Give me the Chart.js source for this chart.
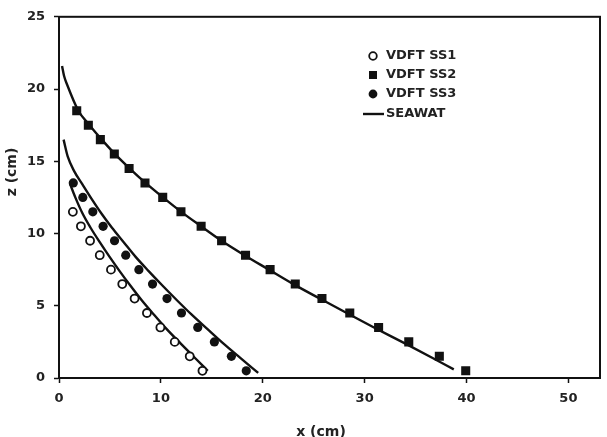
<!DOCTYPE html>
<html>
<head>
<meta charset="utf-8">
<script src="https://cdn.jsdelivr.net/npm/chart.js@4/dist/chart.umd.min.js"></script>
<style>
  html, body { margin: 0; padding: 0; background: #fff; }
  #wrap { width: 607px; height: 437px; }
</style>
</head>
<body>
<div id="wrap"><canvas id="chart" width="607" height="437"></canvas></div>
<script>
// tick labels
const xTicks = [0, 10, 20, 30, 40, 50];
const zTicks = [0, 5, 10, 15, 20, 25];

// VDFT SS1 (open circles)
const ss1X = [1.36, 2.15, 3.05, 4.0, 5.1, 6.21, 7.42, 8.63, 9.95, 11.36, 12.83, 14.08];
const ss1Z = [11.5, 10.5, 9.5, 8.5, 7.5, 6.5, 5.5, 4.5, 3.5, 2.5, 1.5, 0.5];

// VDFT SS2 (squares)
const ss2X = [1.74, 2.88, 4.06, 5.43, 6.88, 8.44, 10.18, 11.97, 13.95, 15.96, 18.31, 20.72, 23.19, 25.81, 28.54, 31.37, 34.33, 37.33, 39.92];
const ss2Z = [18.5, 17.5, 16.5, 15.5, 14.5, 13.5, 12.5, 11.5, 10.5, 9.5, 8.5, 7.5, 6.5, 5.5, 4.5, 3.5, 2.5, 1.5, 0.5];

// VDFT SS3 (filled circles)
const ss3X = [1.4, 2.34, 3.32, 4.33, 5.45, 6.55, 7.84, 9.18, 10.6, 12.02, 13.62, 15.25, 16.92, 18.38];
const ss3Z = [13.5, 12.5, 11.5, 10.5, 9.5, 8.5, 7.5, 6.5, 5.5, 4.5, 3.5, 2.5, 1.5, 0.5];

// SEAWAT curves
const seawat2X = [0.3, 0.5, 0.8, 1.9, 3.0, 4.2, 5.5, 6.95, 8.5, 10.2, 12.0, 13.95, 15.95, 18.2, 20.6, 23.0, 25.6, 28.3, 31.1, 34.0, 36.9, 38.75];
const seawat2Z = [21.6, 20.9, 20.3, 18.5, 17.5, 16.5, 15.5, 14.5, 13.5, 12.5, 11.5, 10.5, 9.5, 8.5, 7.5, 6.5, 5.5, 4.48, 3.43, 2.38, 1.3, 0.6];

const seawat3X = [0.45, 0.87, 1.5, 2.3, 3.2, 4.2, 5.2, 6.35, 7.5, 8.8, 10.15, 11.55, 13.0, 14.55, 16.15, 17.85, 19.55];
const seawat3Z = [16.5, 15.3, 14.3, 13.4, 12.4, 11.35, 10.4, 9.4, 8.4, 7.4, 6.4, 5.4, 4.4, 3.4, 2.38, 1.36, 0.35];

const seawat1X = [1.1, 1.6, 2.3, 3.1, 4.0, 4.95, 5.95, 7.0, 8.1, 9.3, 10.55, 11.95, 13.4, 14.6];
const seawat1Z = [13.4, 12.5, 11.4, 10.4, 9.4, 8.4, 7.4, 6.4, 5.4, 4.4, 3.4, 2.38, 1.35, 0.5];

const legendLabels = ['VDFT SS1', 'VDFT SS2', 'VDFT SS3', 'SEAWAT'];

const toPts = (xs, zs) => xs.map((x, i) => ({ x: x, y: zs[i] }));
const FONT = '"DejaVu Sans", sans-serif';

const lineStyle = {
    showLine: true,
    borderColor: '#111',
    borderWidth: 2.4,
    pointRadius: 0,
    cubicInterpolationMode: 'monotone',
    fill: false
};

const boxAndLegend = {
    id: 'boxAndLegend',
    afterDraw(chart) {
        const ctx = chart.ctx;
        const a = chart.chartArea;
        ctx.save();
        ctx.strokeStyle = '#111';
        ctx.lineWidth = 2;
        ctx.strokeRect(a.left, a.top, a.right - a.left, a.bottom - a.top);

        // legend
        const rows = [56, 75, 94, 114];
        ctx.font = 'bold 13px ' + FONT;
        ctx.textBaseline = 'middle';
        ctx.textAlign = 'left';
        ctx.fillStyle = '#222';
        legendLabels.forEach((txt, i) => {
            ctx.fillText(txt, 386, rows[i]);
        });
        // markers
        ctx.fillStyle = '#111';
        ctx.strokeStyle = '#111';
        ctx.lineWidth = 1.8;
        ctx.beginPath();
        ctx.arc(373, rows[0], 3.8, 0, Math.PI * 2);
        ctx.stroke();
        ctx.fillRect(369, rows[1] - 4, 8, 8);
        ctx.beginPath();
        ctx.arc(373, rows[2], 4.4, 0, Math.PI * 2);
        ctx.fill();
        ctx.lineWidth = 2.4;
        ctx.beginPath();
        ctx.moveTo(363, rows[3]);
        ctx.lineTo(384, rows[3]);
        ctx.stroke();

        // axis titles
        ctx.fillStyle = '#222';
        ctx.font = 'bold 14px ' + FONT;
        ctx.textAlign = 'center';
        ctx.fillText('x (cm)', 321, 432);
        ctx.translate(12.5, 172);
        ctx.rotate(-Math.PI / 2);
        ctx.fillText('z (cm)', 0, 0);
        ctx.restore();
    }
};

const ctx = document.getElementById('chart').getContext('2d');
const chart = new Chart(ctx, {
    type: 'scatter',
    data: {
        datasets: [
            {
                label: legendLabels[0],
                data: toPts(ss1X, ss1Z),
                pointStyle: 'circle',
                pointRadius: 4,
                pointBackgroundColor: '#fff',
                pointBorderColor: '#111',
                pointBorderWidth: 1.8
            },
            {
                label: legendLabels[1],
                data: toPts(ss2X, ss2Z),
                pointStyle: 'rect',
                pointRadius: 6.4,
                pointBackgroundColor: '#111',
                pointBorderColor: '#111',
                pointBorderWidth: 0
            },
            {
                label: legendLabels[2],
                data: toPts(ss3X, ss3Z),
                pointStyle: 'circle',
                pointRadius: 4.6,
                pointBackgroundColor: '#111',
                pointBorderColor: '#111',
                pointBorderWidth: 0
            },
            Object.assign({ label: legendLabels[3], data: toPts(seawat2X, seawat2Z) }, lineStyle),
            Object.assign({ label: legendLabels[3], data: toPts(seawat3X, seawat3Z) }, lineStyle),
            Object.assign({ label: legendLabels[3], data: toPts(seawat1X, seawat1Z) }, lineStyle)
        ]
    },
    options: {
        responsive: false,
        animation: false,
        layout: {
            padding: { top: 7, right: 7, left: 0, bottom: 0 }
        },
        scales: {
            x: {
                type: 'linear',
                min: 0,
                max: 53.1,
                afterBuildTicks: (scale) => {
                    scale.ticks = xTicks.map(v => ({ value: v }));
                },
                afterFit: (scale) => { scale.height = 59; },
                ticks: {
                    color: '#222',
                    padding: 8,
                    font: { family: FONT, size: 13, weight: 'bold' }
                },
                grid: {
                    drawOnChartArea: false,
                    drawTicks: true,
                    tickLength: 5,
                    tickColor: '#111',
                    tickWidth: 1.5
                },
                border: { color: '#111', width: 2 }
            },
            y: {
                type: 'linear',
                min: 0,
                max: 25,
                afterBuildTicks: (scale) => {
                    scale.ticks = zTicks.map(v => ({ value: v }));
                },
                afterFit: (scale) => { scale.width = 59; },
                ticks: {
                    color: '#222',
                    padding: 9,
                    font: { family: FONT, size: 13, weight: 'bold' }
                },
                grid: {
                    drawOnChartArea: false,
                    drawTicks: true,
                    tickLength: 5,
                    tickColor: '#111',
                    tickWidth: 1.5
                },
                border: { color: '#111', width: 2 }
            }
        },
        plugins: {
            legend: { display: false },
            tooltip: { enabled: false }
        }
    },
    plugins: [boxAndLegend]
});
</script>
</body>
</html>
